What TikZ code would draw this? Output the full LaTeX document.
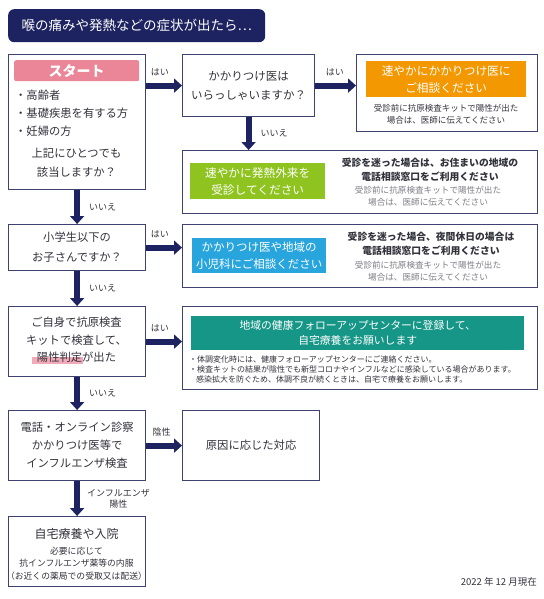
\documentclass[tikz,border=0pt]{standalone}
\usepackage{fontspec}
\setmainfont{Noto Sans CJK JP}
\usepackage{xcolor}
\usetikzlibrary{arrows.meta,positioning}

\definecolor{azulosc}{RGB}{29,34,96}
\definecolor{borde}{RGB}{62,66,112}
\definecolor{texto}{RGB}{50,50,60}
\definecolor{gristxt}{RGB}{125,125,135}
\definecolor{rosa}{RGB}{235,134,152}
\definecolor{naranja}{RGB}{243,152,0}
\definecolor{verde}{RGB}{143,195,31}
\definecolor{celeste}{RGB}{41,165,222}
\definecolor{turquesa}{RGB}{22,150,135}

\newcommand{\fs}[2]{\fontsize{#1}{#2}\selectfont}

\begin{document}
\begin{tikzpicture}[x=1pt,y=-1pt,
    caja/.style={draw=borde, line width=1.2pt, fill=white, anchor=north west, inner sep=0pt, text=texto, align=center},
    barra/.style={anchor=north west, inner sep=0pt, text=white, align=center},
    flecha/.style={draw=azulosc, line width=6pt, -{Triangle[length=8pt,width=14pt]}},
    etiq/.style={font=\fs{9}{11}, text=texto, inner sep=1pt, align=center},
    negrita/.style={font=\bfseries\fs{9.8}{14}, text=texto, align=center},
    nota/.style={font=\fs{8.6}{12}, text=gristxt, align=center}]
    \useasboundingbox (0,0) rectangle (543,599);

    % Titulo
    \node[barra, fill=azulosc, rounded corners=6pt, minimum width=257pt, minimum height=33pt,
      font=\fs{13.5}{16}] (titulo) at (8,9) {喉の痛みや発熱などの症状が出たら⋯};

    % Columna de preguntas
    \node[caja, minimum width=137pt, minimum height=135pt] (inicio) at (8,54) {};
    \node[barra, fill=rosa, rounded corners=2pt, minimum width=125pt, minimum height=21pt,
      font=\bfseries\fs{14}{16}] (inicioTit) at (14,60) {スタート};
    \node[anchor=north west, inner sep=0pt, align=left, text=texto, font=\fs{11.3}{18}]
      (inicioLista) at (15,90) {・高齢者\\・基礎疾患を有する方\\・妊婦の方};
    \node[inner sep=0pt, align=center, text=texto, font=\fs{11.3}{19}]
      (inicioPreg) at (76.5,163) {上記にひとつでも\\該当しますか？};

    \node[caja, minimum width=137pt, minimum height=46pt, font=\fs{11.3}{20}]
      (nino) at (8,224) {小学生以下の\\お子さんですか？};

    \node[caja, minimum width=137pt, minimum height=70pt] (kit) at (8,306) {};
    \fill[rosa!70] (32,357) rectangle (83,364);
    \node[inner sep=0pt, align=center, text=texto, font=\fs{11.3}{17.5}]
      (kitTxt) at (76.5,340) {ご自身で抗原検査\\キットで検査して、\\陽性判定が出た};

    \node[caja, minimum width=137pt, minimum height=70pt, font=\fs{11.3}{18}]
      (online) at (8,410) {電話・オンライン診察\\かかりつけ医等で\\インフルエンザ検査};

    \node[caja, minimum width=137pt, minimum height=70pt] (casa) at (8,516) {};
    \node[inner sep=0pt, text=texto, font=\fs{12}{14}] (casaTit) at (76.5,534) {自宅療養や入院};
    \node[inner sep=0pt, align=center, text=texto, font=\fs{8.8}{12.5}]
      (casaNota) at (76.5,563.5) {必要に応じて\\抗インフルエンザ薬等の内服\\（お近くの薬局での受取又は配送）};

    % Columna de respuestas
    \node[caja, minimum width=132pt, minimum height=62pt, font=\fs{11.5}{19}]
      (medico) at (182,54) {かかりつけ医は\\いらっしゃいますか？};

    \node[caja, minimum width=181pt, minimum height=77pt] (resp1) at (356,54) {};
    \node[barra, fill=naranja, minimum width=160pt, minimum height=36pt, font=\fs{11.7}{17}]
      (resp1Bar) at (366,61) {速やかにかかりつけ医に\\ご相談ください};
    \node[nota, text=texto, font=\fs{8.5}{12}] (resp1Nota) at (446,114)
      {受診前に抗原検査キットで陽性が出た\\場合は、医師に伝えてください};

    \node[caja, minimum width=355pt, minimum height=63pt] (resp2) at (182,150) {};
    \node[barra, fill=verde, minimum width=135pt, minimum height=36pt, font=\fs{11.7}{17}]
      (resp2Bar) at (190,163) {速やかに発熱外来を\\受診してください};
    \node[negrita] (resp2Neg) at (430,170) {受診を迷った場合は、お住まいの地域の\\電話相談窓口をご利用ください};
    \node[nota] (resp2Nota) at (428,196) {受診前に抗原検査キットで陽性が出た\\場合は、医師に伝えてください};

    \node[caja, minimum width=355pt, minimum height=63pt] (resp3) at (182,224) {};
    \node[barra, fill=celeste, minimum width=134pt, minimum height=35pt, font=\fs{11.5}{17}]
      (resp3Bar) at (192,238) {かかりつけ医や地域の\\小児科にご相談ください};
    \node[negrita] (resp3Neg) at (431,244) {受診を迷った場合、夜間休日の場合は\\電話相談窓口をご利用ください};
    \node[nota] (resp3Nota) at (428,271.5) {受診前に抗原検査キットで陽性が出た\\場合は、医師に伝えてください};

    \node[caja, minimum width=355pt, minimum height=83pt] (resp4) at (182,306) {};
    \node[barra, fill=turquesa, minimum width=333pt, minimum height=34pt, font=\fs{10.8}{15}]
      (resp4Bar) at (191,316) {地域の健康フォローアップセンターに登録して、\\自宅療養をお願いします};
    \node[anchor=north west, inner sep=0pt, align=left, text=texto, font=\fs{8}{10}] (resp4Nota) at (189,356)
      {・体調変化時には、健康フォローアップセンターにご連絡ください。\\
       ・検査キットの結果が陰性でも新型コロナやインフルなどに感染している場合があります。\\
       \hspace*{7pt}感染拡大を防ぐため、体調不良が続くときは、自宅で療養をお願いします。};

    \node[caja, minimum width=137pt, minimum height=70pt, font=\fs{11.3}{14}]
      (causa) at (182,410) {原因に応じた対応};

    % Flechas
    \draw[flecha] (inicio.east |- medico.west) -- node[etiq, above=6pt, pos=0.38] (e1) {はい} (medico.west);
    \draw[flecha] (medico.east) -- node[etiq, above=6pt, pos=0.48] (e2) {はい} (medico.east -| resp1.west);
    \draw[flecha] (medico.south) -- node[etiq, right=8pt] (e3) {いいえ} (medico.south |- resp2.north);
    \draw[flecha] (inicio.south) -- node[etiq, right=8pt] (e4) {いいえ} (nino.north);
    \draw[flecha] (nino.east) -- node[etiq, above=6pt, pos=0.38] (e5) {はい} (nino.east -| resp3.west);
    \draw[flecha] (nino.south) -- node[etiq, right=8pt] (e6) {いいえ} (kit.north);
    \draw[flecha] (kit.east) -- node[etiq, above=6pt, pos=0.38] (e7) {はい} (kit.east -| resp4.west);
    \draw[flecha] (kit.south) -- node[etiq, right=8pt] (e8) {いいえ} (online.north);
    \draw[flecha] (online.east) -- node[etiq, above=5pt, pos=0.43] (e9) {陰性} (causa.west);
    \draw[flecha] (online.south) -- node[etiq, right=6pt] (e10) {インフルエンザ\\陽性} (casa.north);

    % Fecha
    \node[anchor=east, inner sep=0pt, text=texto, font=\fs{9.5}{11}] (fecha) at (537,582) {2022 年 12 月現在};
\end{tikzpicture}
\end{document}
